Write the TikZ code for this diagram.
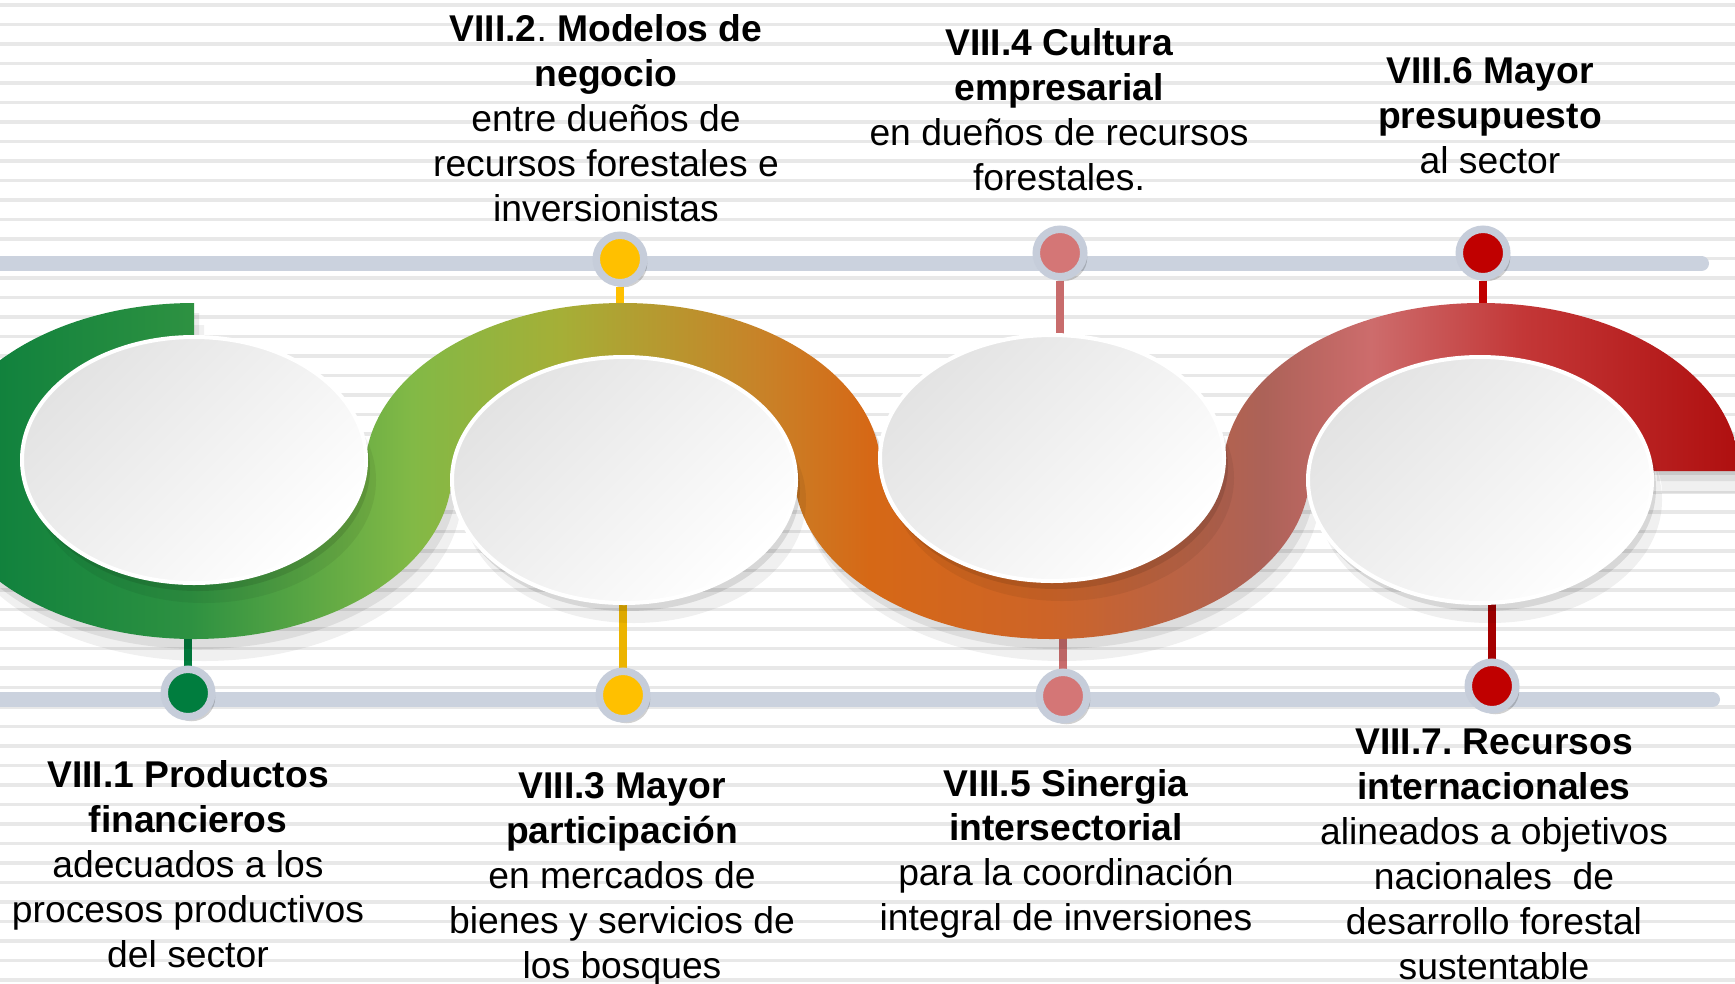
\documentclass[tikz,border=0pt]{standalone}
\usepackage{fontspec}
\setmainfont{Liberation Sans}
\usepackage{tikz}
\usetikzlibrary{shapes.geometric}
\pgfdeclarelayer{background}
\pgfdeclarelayer{edgelayer}
\pgfdeclarelayer{nodelayer}
\pgfsetlayers{background,edgelayer,main,nodelayer}
\definecolor{pinGreen}{RGB}{0,125,62}
\definecolor{pinYellow}{RGB}{255,192,0}
\definecolor{pinPink}{RGB}{212,118,118}
\definecolor{pinRed}{RGB}{192,0,0}
\definecolor{stemYellow}{RGB}{236,180,0}
\definecolor{stemPink}{RGB}{200,108,108}
\definecolor{stemRed}{RGB}{165,0,0}
\definecolor{barGray}{RGB}{203,210,222}
\definecolor{ringGray}{RGB}{198,205,218}
\definecolor{stripeGray}{RGB}{232,232,232}
\definecolor{b0}{RGB}{8,125,60}
\definecolor{b1}{RGB}{45,145,65}
\definecolor{b2}{RGB}{130,185,70}
\definecolor{b3}{RGB}{165,175,55}
\definecolor{b4}{RGB}{200,130,40}
\definecolor{b5}{RGB}{214,104,22}
\definecolor{b6}{RGB}{205,100,40}
\definecolor{b7}{RGB}{172,98,88}
\definecolor{b8}{RGB}{205,108,108}
\definecolor{b9}{RGB}{195,55,55}
\definecolor{b10}{RGB}{175,15,15}
\pgfdeclarehorizontalshading{ribbonshade}{100bp}{color(0bp)=(b0); color(25bp)=(b0);
color(32bp)=(b1); color(38.2bp)=(b2); color(42.3bp)=(b3); color(47.9bp)=(b4);
color(50.9bp)=(b5); color(55.9bp)=(b6); color(61.8bp)=(b7); color(64.8bp)=(b8);
color(69bp)=(b9); color(75bp)=(b10); color(100bp)=(b10)}
\tikzstyle{none}=[inner sep=0pt]
\tikzset{knob/.style={shape=circle, draw=ringGray, line width=0.075cm, minimum size=0.475cm,
inner sep=0pt, preaction={fill=black, opacity=0.18, transform canvas={shift={(0.035cm,-0.045cm)}}}}}
\tikzset{stem/.style={line width=0.08cm}}
\tikzset{rail/.style={draw=barGray, line width=0.15cm, line cap=round}}
\tikzset{stripe/.style={draw=stripeGray, line width=0.035cm}}
\tikzset{plate/.style={shape=ellipse, minimum width=3.44cm, minimum height=2.46cm, draw=white,
line width=0.04cm, top color=black!11, bottom color=white, shading angle=45,
preaction={fill=black, opacity=0.06, transform canvas={shift={(0.10cm,-0.20cm)}}},
preaction={fill=black, opacity=0.10, transform canvas={shift={(0.04cm,-0.08cm)}}}}}
\tikzset{ribbon/.style={shading=ribbonshade,
preaction={fill=black, opacity=0.06, transform canvas={shift={(0.10cm,-0.22cm)}}},
preaction={fill=black, opacity=0.08, transform canvas={shift={(0.05cm,-0.10cm)}}}}}
\tikzset{txt/.style={inner sep=0pt, anchor=north, align=center,
font=\fontsize{10.6}{12.8}\selectfont\frenchspacing}}

\begin{document}
\begin{tikzpicture}
        \useasboundingbox (0, 0) rectangle (17.35, 9.83);
        \begin{pgfonlayer}{background}
            \fill [white] (0, 0) rectangle (17.35, 9.83);
            \foreach \k in {0,...,50}
                \draw [style=stripe] (-0.1, {9.78-0.195*\k}) -- (17.45, {9.78-0.195*\k});
        \end{pgfonlayer}
        % ribbon
        \shade [style=ribbon]
            (1.94, 6.80) arc [start angle=90, end angle=360, x radius=2.58, y radius=1.68]
            -- ++(-0.87, 0) arc [start angle=360, end angle=90, x radius=1.71, y radius=1.05] -- cycle
            (3.65, 5.12) arc [start angle=180, end angle=0, x radius=2.58, y radius=1.68]
            -- ++(-0.87, 0) arc [start angle=0, end angle=180, x radius=1.71, y radius=1.05] -- cycle
            (7.94, 5.12) arc [start angle=180, end angle=360, x radius=2.58, y radius=1.68]
            -- ++(-0.87, 0) arc [start angle=360, end angle=180, x radius=1.71, y radius=1.05] -- cycle
            (12.23, 5.12) arc [start angle=180, end angle=0, x radius=2.58, y radius=1.68]
            -- ++(-0.87, 0) arc [start angle=0, end angle=180, x radius=1.71, y radius=1.05] -- cycle;
        \node [style=plate] (7) at (1.94, 5.23) {};
        \node [style=plate] (8) at (6.24, 5.03) {};
        \node [style=plate] (9) at (10.52, 5.25) {};
        \node [style=plate] (10) at (14.80, 5.03) {};
        \begin{pgfonlayer}{nodelayer}
            \node [style=knob, fill=pinGreen] (0) at (1.88, 2.90) {};
            \node [style=knob, fill=pinYellow] (1) at (6.20, 7.24) {};
            \node [style=knob, fill=pinYellow] (2) at (6.23, 2.88) {};
            \node [style=knob, fill=pinPink] (3) at (10.60, 7.30) {};
            \node [style=knob, fill=pinPink] (4) at (10.63, 2.87) {};
            \node [style=knob, fill=pinRed] (5) at (14.83, 7.30) {};
            \node [style=knob, fill=pinRed] (6) at (14.92, 2.97) {};
            \node [style=none] (11) at (-0.1, 7.195) {};
            \node [style=none] (12) at (17.015, 7.195) {};
            \node [style=none] (13) at (-0.1, 2.835) {};
            \node [style=none] (14) at (17.125, 2.835) {};
            \node [style=txt] (15) at (1.88, 2.235) {{\bf VIII.1 Productos}\\{\bf financieros}\\adecuados a los\\procesos productivos\\del sector};
            \node [style=txt] (16) at (6.06, 9.69) {{\bf VIII.2}. {\bf Modelos de}\\{\bf negocio}\\entre dueños de\\recursos forestales e\\inversionistas};
            \node [style=txt] (17) at (6.22, 2.114) {{\bf VIII.3 Mayor}\\{\bf participación}\\en mercados de\\bienes y servicios de\\los bosques};
            \node [style=txt] (18) at (10.59, 9.55) {{\bf VIII.4 Cultura}\\{\bf empresarial}\\en dueños de recursos\\forestales.};
            \node [style=txt] (19) at (10.66, 2.147) {{\bf VIII.5 Sinergia}\\{\bf intersectorial}\\para la coordinación\\integral de inversiones};
            \node [style=txt] (20) at (14.90, 9.26) {{\bf VIII.6 Mayor}\\{\bf presupuesto}\\al sector};
            \node [style=txt] (21) at (14.94, 2.545) {{\bf VIII.7. Recursos}\\{\bf internacionales}\\alineados a objetivos\\nacionales~ de\\desarrollo forestal\\sustentable};
        \end{pgfonlayer}
        \begin{pgfonlayer}{edgelayer}
            \draw [style=rail] (11.center) to (12.center);
            \draw [style=rail] (13.center) to (14.center);
            \draw [style=stem, draw=pinGreen] (0) to (0 |- 7.center);
            \draw [style=stem, draw=pinYellow] (1) to (1 |- 8.center);
            \draw [style=stem, draw=stemYellow] (2) to (2 |- 8.center);
            \draw [style=stem, draw=stemPink] (3) to (3 |- 9.center);
            \draw [style=stem, draw=stemPink] (4) to (4 |- 9.center);
            \draw [style=stem, draw=pinRed] (5) to (5 |- 10.center);
            \draw [style=stem, draw=stemRed] (6) to (6 |- 10.center);
        \end{pgfonlayer}
\end{tikzpicture}
\end{document}
